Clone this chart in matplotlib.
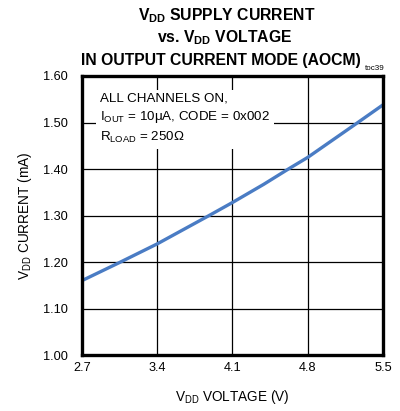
import matplotlib
matplotlib.use("Agg")
import matplotlib.pyplot as plt

plt.rcParams['font.family'] = ['Liberation Sans', 'DejaVu Sans']

voltage = [2.7, 3.05, 3.4, 3.875, 4.1, 4.39, 4.62, 4.8, 5.26, 5.5]
current = [1.160, 1.199, 1.239, 1.299, 1.328, 1.367, 1.400, 1.425, 1.499, 1.538]
xticks = [2.7, 3.4, 4.1, 4.8, 5.5]
yticks = [1.00, 1.10, 1.20, 1.30, 1.40, 1.50, 1.60]

fig = plt.figure(figsize=(4.0, 4.11), dpi=100)
W, H = 400, 411
L, R, T, B = 82, 383, 76, 355
ax = fig.add_axes([L / W, 1 - B / H, (R - L) / W, (B - T) / H])

ax.plot(voltage, current, color='#4a7cc4', lw=2.4, zorder=3, solid_capstyle='butt',
        solid_joinstyle='round')
ax.set_xlim(2.7, 5.5)
ax.set_ylim(1.0, 1.6)
ax.set_xticks(xticks)
ax.set_yticks(yticks)
ax.set_xticklabels([f'{v:.1f}' for v in xticks], fontsize=9.2)
ax.set_yticklabels([f'{v:.2f}' for v in yticks], fontsize=9.2)
ax.tick_params(length=0, pad=5)
ax.tick_params(axis='y', pad=10)
ax.grid(True, color='black', lw=0.9)
ax.set_axisbelow(True)
for s in ax.spines.values():
    s.set_linewidth(2.4)
    s.set_zorder(5)

ax.set_xlabel(r'$\mathregular{V_{DD}}$ VOLTAGE (V)', fontsize=9.8, labelpad=10)
ax.set_ylabel(r'$\mathregular{V_{DD}}$ CURRENT (mA)', fontsize=9.8, labelpad=7)

# annotation with white background box
txt = ('ALL CHANNELS ON,\n'
       r'$\mathregular{I_{OUT}}$ = 10μA, CODE = 0x002' + '\n'
       r'$\mathregular{R_{LOAD}}$ = 250Ω')
ax.text(0.06, 0.94, txt, transform=ax.transAxes, fontsize=9.6, va='top', ha='left',
        linespacing=1.42, zorder=4,
        bbox=dict(facecolor='white', edgecolor='none', pad=3))

fig.text(227 / W, 1 - 16 / H, r'$\mathregular{V_{DD}}$ SUPPLY CURRENT', fontsize=11.3,
         fontweight='bold', ha='center', va='center')
fig.text(225 / W, 1 - 38 / H, r'vs. $\mathregular{V_{DD}}$ VOLTAGE', fontsize=11.3,
         fontweight='bold', ha='center', va='center')
fig.text(221 / W, 1 - 60 / H, 'IN OUTPUT CURRENT MODE (AOCM)', fontsize=11.3,
         fontweight='bold', ha='center', va='center')
fig.text(385 / W, 1 - 69 / H, 'toc39', fontsize=5.8, ha='right', va='center')

fig.savefig('out.png', dpi=100)
